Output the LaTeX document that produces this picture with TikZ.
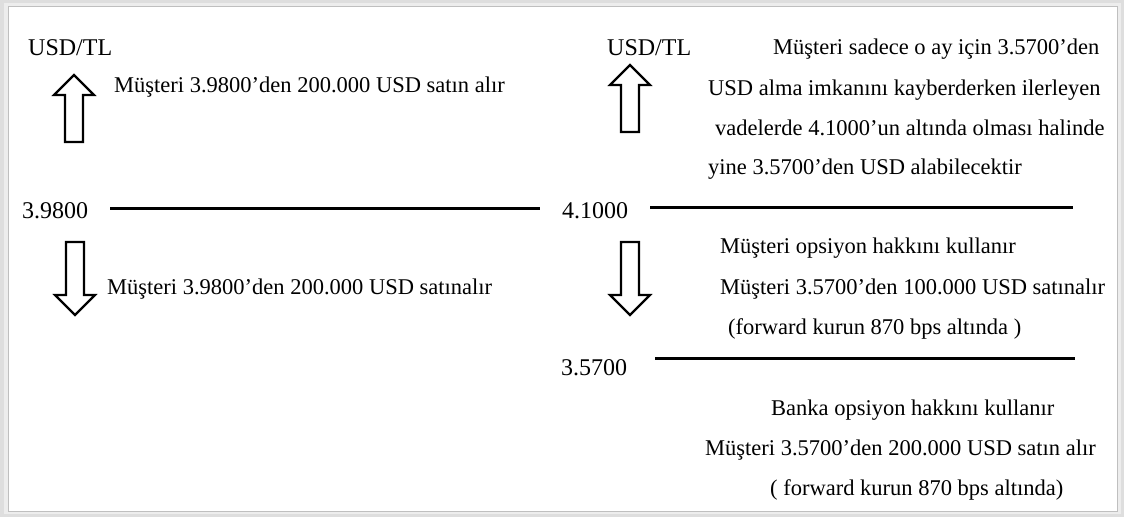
\documentclass[tikz,border=0pt]{standalone}
\usepackage{fontspec}
\setmainfont{Liberation Serif}
\begin{document}
\begin{tikzpicture}[x=1pt,y=-1pt,
  txt/.style={anchor=base west,inner sep=0pt,font=\fontsize{22.5}{27}\selectfont},
  lbl/.style={anchor=base west,inner sep=0pt,font=\fontsize{24}{28}\selectfont},
  level/.style={line width=3pt},
  blockarrow/.style={draw=black,fill=white,line width=2.2pt,line join=miter},
  pics/uparrow/.style={code={
    \draw[blockarrow] (0,0) -- (20,20) -- (9,20) -- (9,67) -- (-9,67) -- (-9,20) -- (-20,20) -- cycle;
  }},
  pics/downarrow/.style={code={
    \draw[blockarrow] (0,0) -- (20,-20) -- (9,-20) -- (9,-73) -- (-9,-73) -- (-9,-20) -- (-20,-20) -- cycle;
  }}]
% page frame with soft grey edge
\fill[black!13] (0,0) rectangle (1124,517);
\fill[black!7] (4,3) rectangle (1121,514);
\fill[white,draw=black!25,line width=0.6pt] (8,6) rectangle (1117,511);
\useasboundingbox (0,0) rectangle (1124,517);

% ---------- left panel ----------
\node[lbl] (usdL) at (28,55) {USD/TL};
\pic at (74,75) {uparrow};
\node[txt] (buyL) at (114,92) {Müşteri 3.9800’den 200.000 USD satın alır};
\node[lbl] (rateL) at (22,218) {3.9800};
\coordinate (lineLa) at (110,208);
\coordinate (lineLb) at (540,208);
\draw[level] (lineLa) -- (lineLb);
\pic at (75,315) {downarrow};
\node[txt] (sellL) at (107,294) {Müşteri 3.9800’den 200.000 USD satınalır};

% ---------- right panel ----------
\node[lbl] (usdR) at (607,55) {USD/TL};
\pic at (630,65) {uparrow};
\node[txt] (r1a) at (773,54) {Müşteri sadece o ay için 3.5700’den};
\node[txt] (r1b) at (708,95) {USD alma imkanını kayberderken ilerleyen};
\node[txt] (r1c) at (715,135) {vadelerde 4.1000’un altında olması halinde};
\node[txt] (r1d) at (708,174) {yine 3.5700’den USD alabilecektir};

\node[lbl] (rateR1) at (562,218) {4.1000};
\coordinate (lineR1a) at (650,207);
\coordinate (lineR1b) at (1073,207);
\draw[level] (lineR1a) -- (lineR1b);

\pic at (630,315) {downarrow};
\node[txt] (r2a) at (720,253) {Müşteri opsiyon hakkını kullanır};
\node[txt] (r2b) at (720,294) {Müşteri 3.5700’den 100.000 USD satınalır};
\node[txt] (r2c) at (728,334) {(forward kurun 870 bps altında )};

\node[lbl] (rateR2) at (561,375) {3.5700};
\coordinate (lineR2a) at (655,358);
\coordinate (lineR2b) at (1075,358);
\draw[level] (lineR2a) -- (lineR2b);

\node[txt] (r3a) at (771,415) {Banka opsiyon hakkını kullanır};
\node[txt] (r3b) at (705,455) {Müşteri 3.5700’den 200.000 USD satın alır};
\node[txt] (r3c) at (770,495) {( forward kurun 870 bps altında)};
\end{tikzpicture}
\end{document}
